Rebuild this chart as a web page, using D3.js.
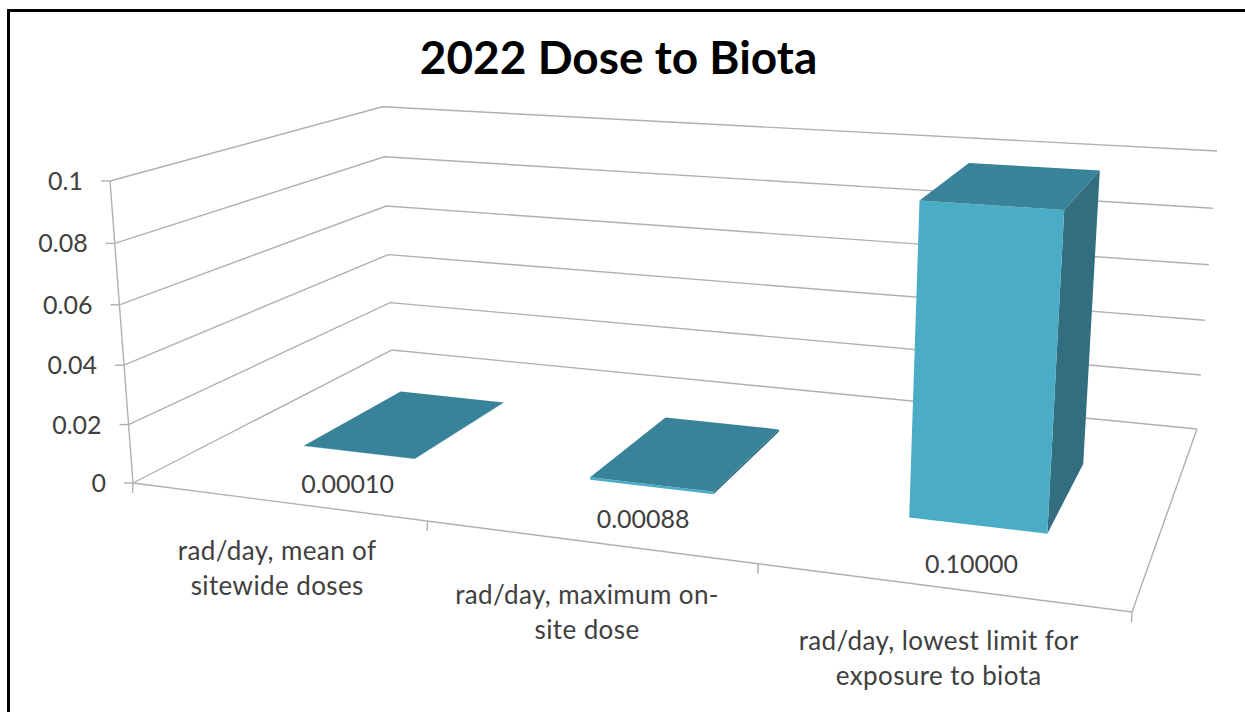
<!DOCTYPE html>
<html>
<head>
<meta charset="utf-8">
<script src="https://cdnjs.cloudflare.com/ajax/libs/d3/7.8.5/d3.min.js"></script>
<style>
  html, body { margin: 0; padding: 0; background: #fff; }
  svg { display: block; }
  text { font-family: Lato, "Open Sans", sans-serif; }
</style>
</head>
<body>
<div id="chart"></div>
<script>
var categories = ["mean", "maximum", "limit"];
var doses = [0.0001, 0.00088, 0.1];
var doseLabels = ["0.00010", "0.00088", "0.10000"];
var categoryLines = [
  ["rad/day, mean of", "sitewide doses"],
  ["rad/day, maximum on-", "site dose"],
  ["rad/day, lowest limit for", "exposure to biota"]
];
var yTicks = [0, 0.02, 0.04, 0.06, 0.08, 0.1];
var yTickLabels = ["0", "0.02", "0.04", "0.06", "0.08", "0.1"];

var svgWidth = 1245;
var svgHeight = 712;

// floor corners, order is front-left, front-right, back-right, back-left
var floorCorners = [[133, 483], [1132, 612], [1197, 429], [392, 350]];
// top of the value axis, plus how much the perspective divide changes going up
var axisTop = [110, 181];
var riseW = -0.0405;

// small hand nudges for the text placed under the bars
var doseNudge = [[2, 2], [5, 2], [7, 9]];
var categoryNudge = [[16, 1], [14, 4], [14.5, 5]];

// camera: unit floor square through a homography, height adds to the numerator and w
var floorCam = (function(q) {
  var dx1 = q[1][0] - q[2][0], dx2 = q[3][0] - q[2][0], sx = q[0][0] - q[1][0] + q[2][0] - q[3][0];
  var dy1 = q[1][1] - q[2][1], dy2 = q[3][1] - q[2][1], sy = q[0][1] - q[1][1] + q[2][1] - q[3][1];
  var den = dx1 * dy2 - dx2 * dy1;
  var g = (sx * dy2 - dx2 * sy) / den;
  var h = (dx1 * sy - sx * dy1) / den;
  return {
    g: g,
    h: h,
    ax: q[1][0] - q[0][0] + g * q[1][0], bx: q[3][0] - q[0][0] + h * q[3][0], cx: q[0][0],
    ay: q[1][1] - q[0][1] + g * q[1][1], by: q[3][1] - q[0][1] + h * q[3][1], cy: q[0][1]
  };
})(floorCorners);

var riseX = axisTop[0] * (1 + riseW) - floorCorners[0][0];
var riseY = axisTop[1] * (1 + riseW) - floorCorners[0][1];

var yScale = d3.scaleLinear().domain([0, 0.1]).range([0, 1]);
var xScale = d3.scaleBand().domain(categories).range([0, 1]).paddingInner(0.6).paddingOuter(0.3);
var depthScale = d3.scaleBand().domain(["dose"]).range([0, 1]).paddingInner(0.6).paddingOuter(0.3);

function project(u, d, v) {
  var s = yScale(v);
  var w = floorCam.g * u + floorCam.h * d + 1 + riseW * s;
  return [
    (floorCam.ax * u + floorCam.bx * d + floorCam.cx + riseX * s) / w,
    (floorCam.ay * u + floorCam.by * d + floorCam.cy + riseY * s) / w
  ];
}

var line = d3.line();

var svg = d3.select("#chart")
  .append("svg")
  .attr("width", svgWidth)
  .attr("height", svgHeight);

// outer frame, open at the bottom and right
svg.append("path")
  .attr("d", line([[8.5, svgHeight], [8.5, 10.5], [svgWidth, 10.5]]))
  .attr("fill", "none")
  .attr("stroke", "#000")
  .attr("stroke-width", 3);

svg.append("text")
  .attr("x", 618.5)
  .attr("y", 74)
  .attr("text-anchor", "middle")
  .attr("font-size", 46)
  .attr("font-weight", 700)
  .attr("fill", "#000")
  .text("2022 Dose to Biota");

var frame = svg.append("g")
  .attr("fill", "none")
  .attr("stroke", "#b0b0b0")
  .attr("stroke-width", 1.4);

// side wall + back wall gridlines
yTicks.forEach(function(v, i) {
  frame.append("path")
    .attr("d", line([project(0, 0, v), project(0, 1, v), project(1, 1, v)]));
  var p = project(0, 0, v);
  frame.append("path")
    .attr("d", line([p, [p[0] - 9, p[1]]]));
  svg.append("text")
    .attr("x", p[0] - 27)
    .attr("y", p[1] + 9)
    .attr("text-anchor", "end")
    .attr("font-size", 25)
    .attr("fill", "#404040")
    .text(yTickLabels[i]);
});

// value axis, floor edges
frame.append("path").attr("d", line([project(0, 0, 0), project(0, 0, 0.1)]));
frame.append("path").attr("d", line([project(0, 0, 0), project(1, 0, 0), project(1, 1, 0)]));

// category ticks
d3.range(4).forEach(function(i) {
  var p = project(i / 3, 0, 0);
  frame.append("path").attr("d", line([p, [p[0] - 0.5, p[1] + 10]]));
});

var bars = svg.append("g");

categories.forEach(function(c, i) {
  var u0 = xScale(c), u1 = u0 + xScale.bandwidth();
  var d0 = depthScale("dose"), d1 = d0 + depthScale.bandwidth();
  var v = doses[i];

  bars.append("path")
    .attr("d", line([project(u1, d0, 0), project(u1, d1, 0), project(u1, d1, v), project(u1, d0, v)]) + "Z")
    .attr("fill", "#326e80");
  bars.append("path")
    .attr("d", line([project(u0, d0, 0), project(u1, d0, 0), project(u1, d0, v), project(u0, d0, v)]) + "Z")
    .attr("fill", "#4bacc6");
  bars.append("path")
    .attr("d", line([project(u0, d0, v), project(u1, d0, v), project(u1, d1, v), project(u0, d1, v)]) + "Z")
    .attr("fill", "#388399");

  var p = project((u0 + u1) / 2, d0, 0);
  svg.append("text")
    .attr("x", p[0] - 13 + doseNudge[i][0])
    .attr("y", p[1] + 39 + doseNudge[i][1])
    .attr("text-anchor", "middle")
    .attr("font-size", 25)
    .attr("fill", "#404040")
    .text(doseLabels[i]);
});

// category labels hang under the front edge
categories.forEach(function(c, i) {
  var p = project(xScale(c) + xScale.bandwidth() / 2, 0, 0);
  var t = svg.append("text")
    .attr("text-anchor", "middle")
    .attr("font-size", 26)
    .attr("letter-spacing", 0.4)
    .attr("fill", "#404040");
  categoryLines[i].forEach(function(s, j) {
    t.append("tspan")
      .attr("x", p[0] - 15 + categoryNudge[i][0])
      .attr("y", p[1] + 58 + categoryNudge[i][1] + j * 35)
      .text(s);
  });
});
</script>
</body>
</html>
